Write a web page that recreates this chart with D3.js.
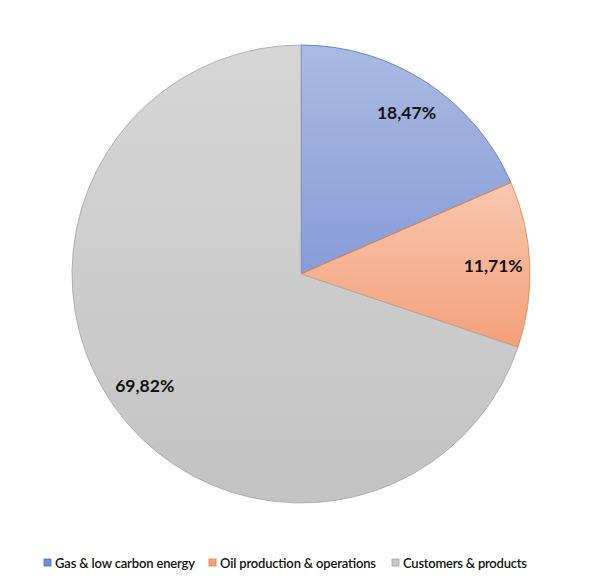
<!DOCTYPE html>
<html>
<head>
<meta charset="utf-8">
<script src="https://cdn.jsdelivr.net/npm/d3@7"></script>
<style>
  body { margin: 0; background: #fff; }
  svg text { font-family: Lato, "Open Sans", sans-serif; }
</style>
</head>
<body>
<svg id="chart" width="601" height="583"></svg>
<script>
"use strict";

var categories = ['Gas & low carbon energy', 'Oil production & operations', 'Customers & products'];
var values = [18.47, 11.71, 69.82];
var labels = ['18,47%', '11,71%', '69,82%'];

var fills = [
  { top: '#abbae2', bottom: '#879cd8', line: '#4472c4', key: '#6f8fd0' },
  { top: '#f8c8b0', bottom: '#f4a07a', line: '#ed7d31', key: '#f2a27a' },
  { top: '#d6d6d6', bottom: '#c3c3c3', line: '#a5a5a5', key: '#c8c8c8' }
];

function draw_pie(svg) {
  var cx = 301, cy = 274, r = 229;

  var defs = svg.append('defs');
  fills.forEach(function (f, i) {
    var g = defs.append('linearGradient')
      .attr('id', 'grad' + i)
      .attr('x1', 0).attr('y1', 0).attr('x2', 0).attr('y2', 1);
    g.append('stop').attr('offset', '0%').attr('stop-color', f.top);
    g.append('stop').attr('offset', '100%').attr('stop-color', f.bottom);
  });

  var pie = d3.pie().sort(null).value(function (d) { return d; });
  var arcs = pie(values);
  var arc = d3.arc().innerRadius(0).outerRadius(r);

  var plot = svg.append('g')
    .attr('transform', 'translate(' + cx + ',' + cy + ')');

  plot.selectAll('path.slice')
    .data(arcs)
    .enter().append('path')
    .attr('class', 'slice')
    .attr('d', arc)
    .attr('fill', function (d, i) { return 'url(#grad' + i + ')'; })
    .attr('stroke', function (d, i) { return fills[i].line; })
    .attr('stroke-width', 0.8);

  // labels sit at about 0.84 of the radius
  var labelArc = d3.arc().innerRadius(r * 0.84).outerRadius(r * 0.84);
  plot.selectAll('text.lbl')
    .data(arcs)
    .enter().append('text')
    .attr('class', 'lbl')
    .attr('transform', function (d) {
      var c = labelArc.centroid(d);
      return 'translate(' + c[0] + ',' + c[1] + ')';
    })
    .attr('text-anchor', 'middle')
    .attr('dy', '0.35em')
    .attr('font-size', 17.5)
    .attr('font-weight', 'bold')
    .attr('fill', '#111')
    .text(function (d, i) { return labels[i]; });
}

function draw_legend(svg) {
  var xs = [44, 209, 392];
  var legend = svg.append('g').attr('class', 'legend');
  categories.forEach(function (c, i) {
    var g = legend.append('g').attr('transform', 'translate(' + xs[i] + ',559)');
    g.append('rect')
      .attr('width', 7).attr('height', 7)
      .attr('fill', fills[i].key)
      .attr('stroke', fills[i].line)
      .attr('stroke-width', 0.8);
    g.append('text')
      .attr('x', 11).attr('y', 8.5)
      .attr('font-size', 13)
      .attr('font-weight', 600)
      .attr('fill', '#111')
      .attr('textLength', [140, 156, 124][i])
      .text(c);
  });
}

var svg = d3.select('#chart');
draw_pie(svg);
draw_legend(svg);
</script>
</body>
</html>
